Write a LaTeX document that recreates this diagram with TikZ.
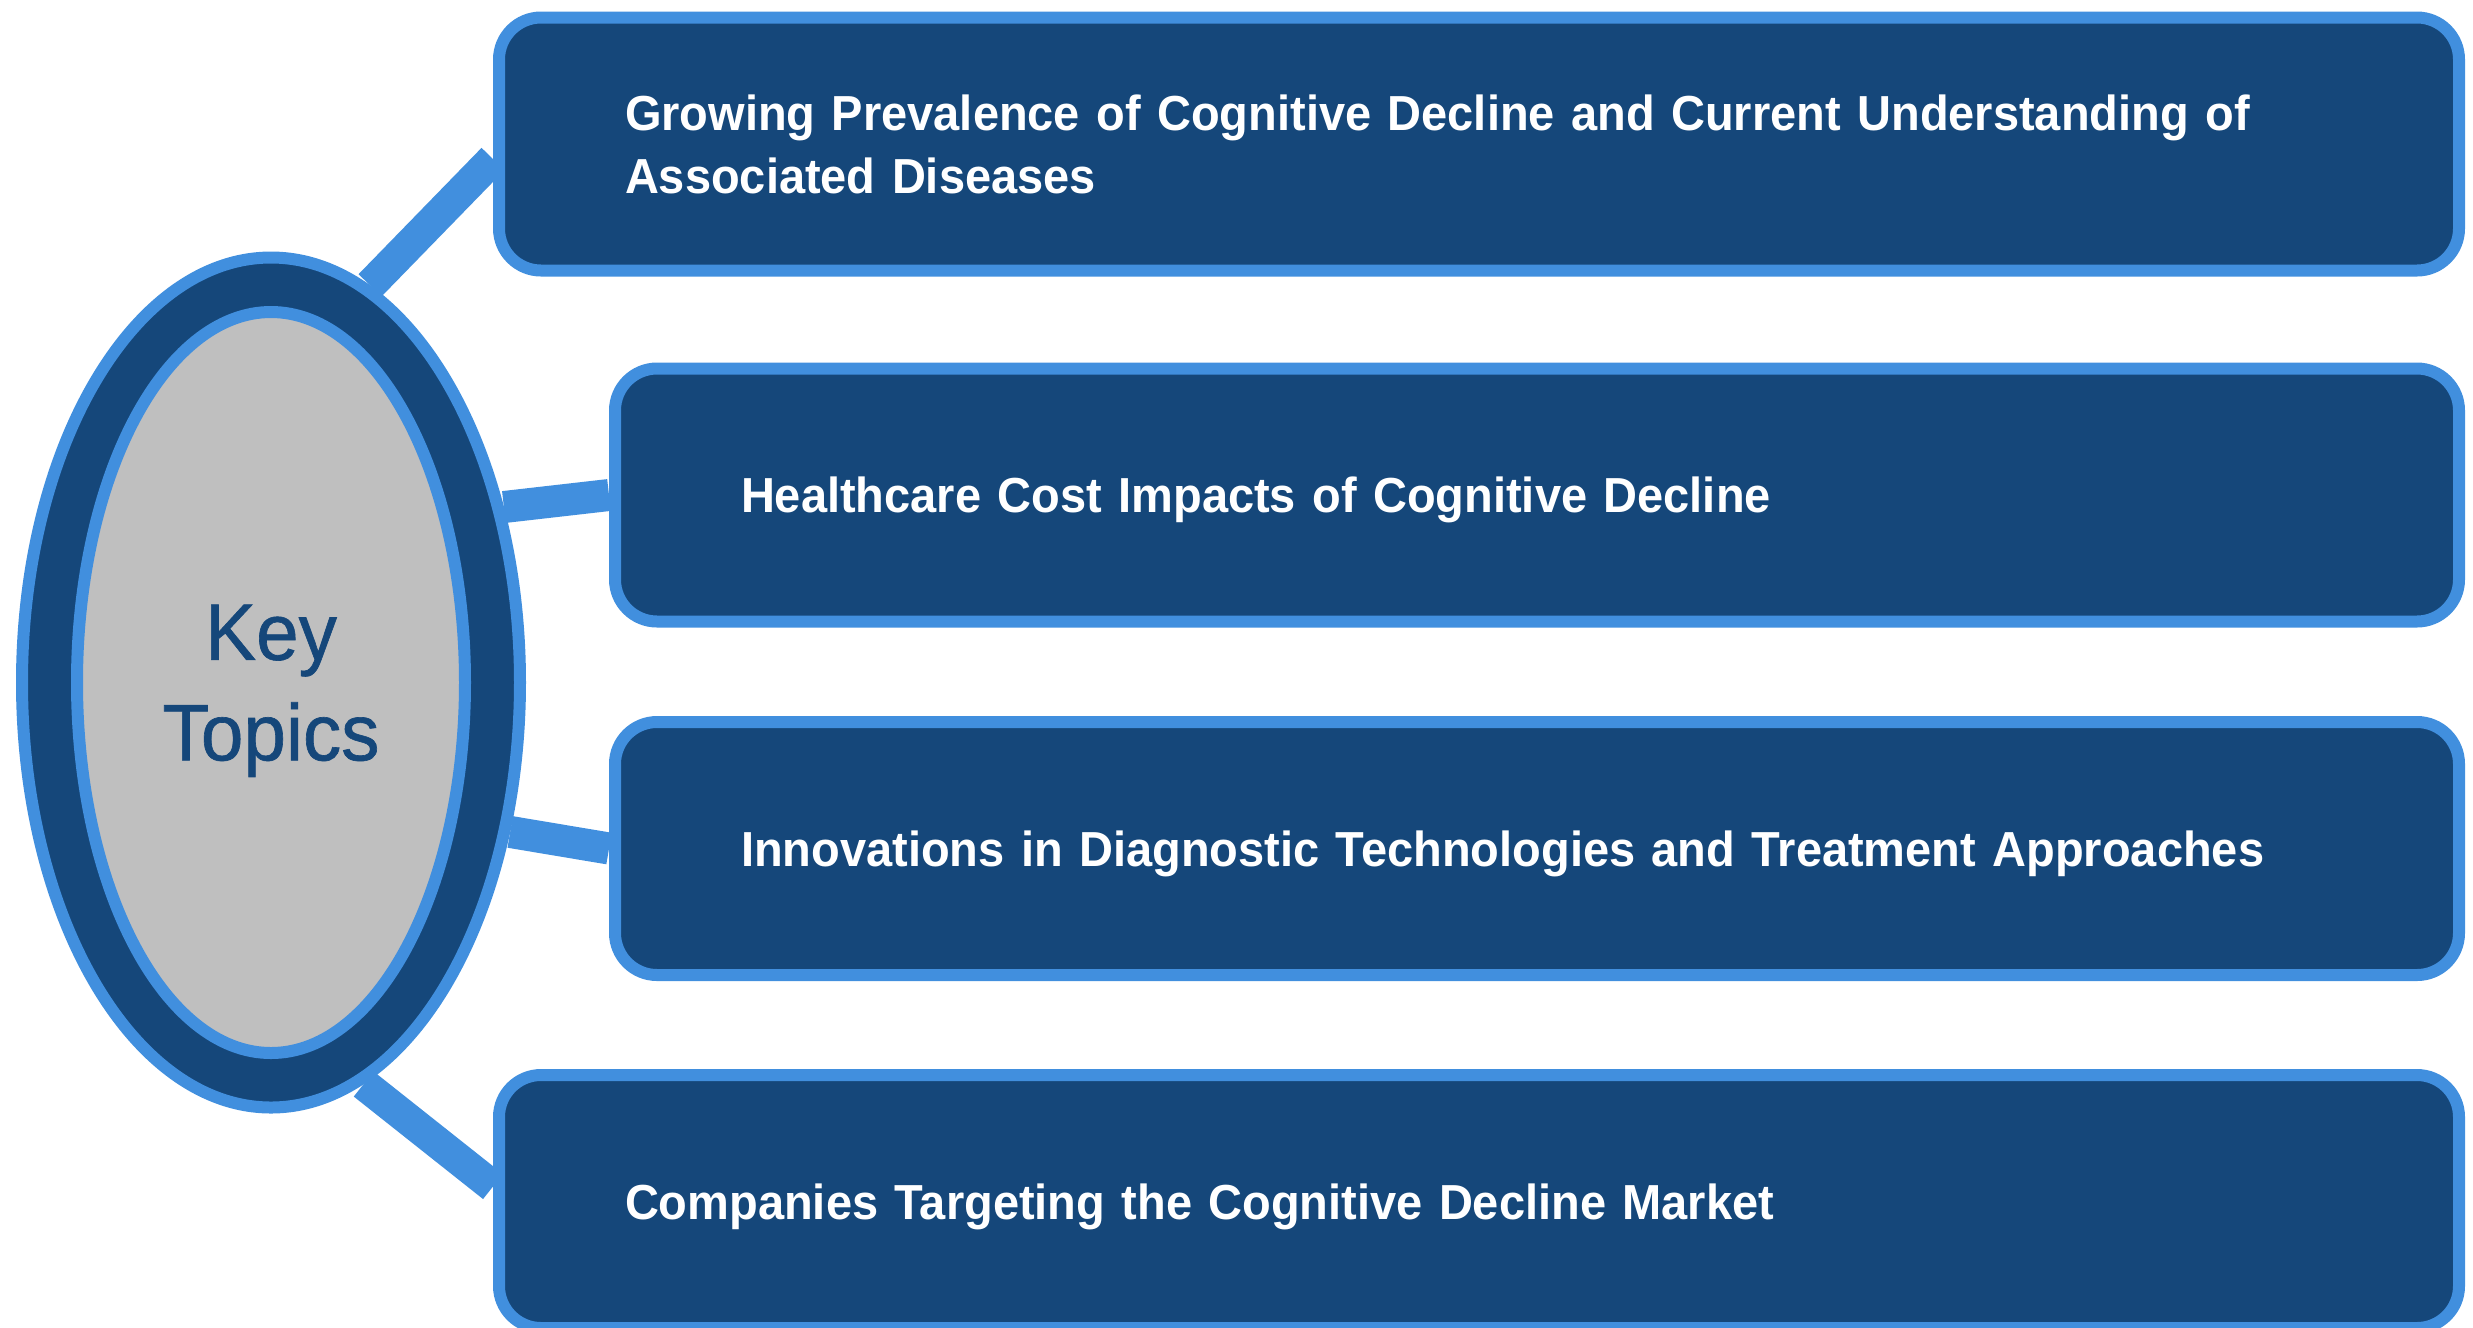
\documentclass[tikz,border=0pt]{standalone}
\usepackage{fontspec}
\usepackage{tikz}
\usetikzlibrary{backgrounds}
\usetikzlibrary{shapes.geometric}
\newfontfamily\topicfont{Liberation Sans}[FakeStretch=0.955]
\newfontfamily\corefont{Liberation Sans}[FakeStretch=0.955, FakeBold=0.8]
\definecolor{navy}{RGB}{21,71,122}
\definecolor{sky}{RGB}{65,143,222}
\definecolor{silver}{RGB}{191,191,191}
\tikzset{
	topic/.style={draw=sky, fill=navy, line width=0.12cm, rounded corners=0.42cm,
		minimum height=2.53cm, inner xsep=1.26cm, align=left, text=white, text depth=0pt,
		font=\topicfont\bfseries\fontsize{14}{17.9}\selectfont},
	link/.style={draw=sky, line width=0.32cm}
}

\begin{document}
\begin{tikzpicture}
	\useasboundingbox (0,0) rectangle (24.73,-13.27);
	\node[topic, text width=17.08cm, text depth={}] (t1) at (14.79,-1.44) {Growing Prevalence of Cognitive Decline and Current Understanding of\\Associated Diseases};
	\node[topic, text width=15.92cm] (t2) at (15.37,-4.95) {Healthcare Cost Impacts of Cognitive Decline};
	\node[topic, text width=15.92cm] (t3) at (15.37,-8.485) {Innovations in Diagnostic Technologies and Treatment Approaches};
	\node[topic, text width=17.08cm] (t4) at (14.79,-12.015) {Companies Targeting the Cognitive Decline Market};
	
	\node[ellipse, draw=sky, fill=navy, line width=0.12cm, minimum width=4.98cm, minimum height=8.5cm, inner sep=0pt] (ring) at (2.71,-6.825) {};
	\node[ellipse, draw=sky, fill=silver, line width=0.12cm, minimum width=3.88cm, minimum height=7.41cm, inner sep=0pt,
		align=center, text=navy, text depth=0pt, font=\corefont\fontsize{22.8}{28.6}\selectfont] (core) at (ring) {Key\\Topics};
	
	\begin{scope}[on background layer]
		\draw[link] (ring.76) -- ([yshift=-0.15cm]t1.west);
		\draw[link] (ring.37) -- (t2.west);
		\draw[link] (ring.-32) -- (t3.west);
		\draw[link] (ring.-77) -- ([yshift=0.15cm]t4.west);
	\end{scope}
\end{tikzpicture}
\end{document}
